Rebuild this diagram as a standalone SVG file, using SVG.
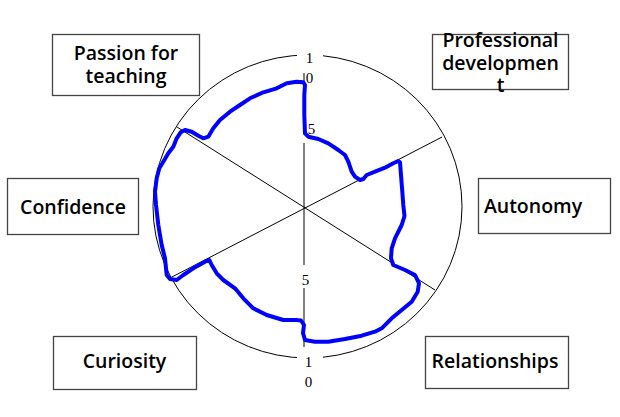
<svg xmlns="http://www.w3.org/2000/svg" width="620" height="417" viewBox="0 0 620 417">
<style>
.box{fill:#fff;stroke:#444;stroke-width:1.3}
.lbl{font-family:"Open Sans","Noto Sans",sans-serif;font-weight:600;font-size:19.5px;fill:#000;text-anchor:middle}
.ax{stroke:#000;stroke-width:1;fill:none}
.num{font-family:"Liberation Serif","Times New Roman",serif;font-size:15px;fill:#000;text-anchor:middle}
.bg{fill:#fff}
.data{fill:none;stroke:#0000ff;stroke-width:4;stroke-linejoin:round;stroke-linecap:round}
</style>
<rect width="620" height="417" fill="#fff"/>
<g id="chart">
<ellipse class="ax" cx="307.5" cy="206.5" rx="154.5" ry="151.5"/>
<line class="ax" x1="177" y1="127" x2="435" y2="290"/>
<line class="ax" x1="170" y1="278" x2="442" y2="137"/>
<line class="ax" x1="304" y1="73" x2="304" y2="347"/>
<rect class="bg" x="297" y="49" width="26" height="17"/>
<rect class="bg" x="297" y="353" width="26" height="17"/>
<rect class="bg" x="300" y="121" width="18" height="22"/>
<rect class="bg" x="297" y="265" width="17" height="23"/>
<text class="num" x="309.5" y="63">1</text>
<text class="num" x="309.5" y="83">0</text>
<text class="num" x="311.5" y="134">5</text>
<text class="num" x="305.5" y="285">5</text>
<text class="num" x="308.5" y="367">1</text>
<text class="num" x="308.5" y="387">0</text>
</g>
<g id="connectors">
<path class="data" d="M296.7,81.7 L303.3,82.3 L305,85 L304.3,95 L304.3,115 L305,133.3 L308.3,136.7 L318.3,139 L328.3,143.3 L338.3,150 L345,155 L348.3,161.7 L351.7,171.7 L355,176.7 L360,180 L363.3,179 L366.7,175 L375,171.7 L385,167.7 L393.3,163.3 L398.3,161 L400,162.3 L401,175 L402.3,191.7 L403.3,205 L404.5,216 L401.7,225 L395,238.3 L391.7,248.3 L391,258.3 L393.3,265 L405,270 L415,275 L419,283.3 L417.7,291.7 L411.7,301.7 L401.7,310 L391.7,318.3 L381.7,328.3 L375,331.7 L361.7,335.7 L345,339 L328.3,341.7 L315,341.7 L305,340 L303,333 L304,325 L301,320.5 L296,320 L283.3,320 L266.7,315 L253.3,308.3 L243.3,298.3 L235,288.3 L223.3,280 L216.7,273.3 L211.7,265 L209.3,260 L205,261.7 L193.3,268.3 L183.3,275 L176.7,280 L170,279 L166.7,275 L166,268.3 L165,258.3 L161.7,245 L158.3,225 L156,205 L155,191.7 L156.7,178.3 L159.3,168.3 L163.3,161.7 L168.3,153.3 L173.3,146.7 L176.7,138.3 L180.7,132.3 L185,130 L191.7,131.7 L198.3,135.7 L203.3,138.3 L208.3,136.7 L213.3,128.3 L220,120 L230,111.7 L240,105 L250,98.3 L263.3,92.3 L276.7,88.3 L286.7,83.3 Z"/>
</g>
<g id="node-passion">
<rect class="box" x="52.5" y="34.5" width="147" height="61"/>
<text class="lbl" x="126" y="60">Passion for</text>
<text class="lbl" x="126" y="83">teaching</text>
</g>
<g id="node-professional">
<rect class="box" x="432.5" y="34.5" width="136" height="55"/>
<text class="lbl" x="500.5" y="47">Professional</text>
<text class="lbl" x="500.5" y="69.5">developmen</text>
<text class="lbl" x="500.5" y="92">t</text>
</g>
<g id="node-confidence">
<rect class="box" x="7.5" y="178.5" width="131" height="56"/>
<text class="lbl" x="73" y="214">Confidence</text>
</g>
<g id="node-autonomy">
<rect class="box" x="478.5" y="178.5" width="132" height="55"/>
<text class="lbl" x="533" y="213">Autonomy</text>
</g>
<g id="node-curiosity">
<rect class="box" x="53.5" y="336.5" width="143" height="53"/>
<text class="lbl" x="124.5" y="368">Curiosity</text>
</g>
<g id="node-relationships">
<rect class="box" x="425.5" y="336.5" width="143" height="52"/>
<text class="lbl" x="495" y="368">Relationships</text>
</g>
</svg>
